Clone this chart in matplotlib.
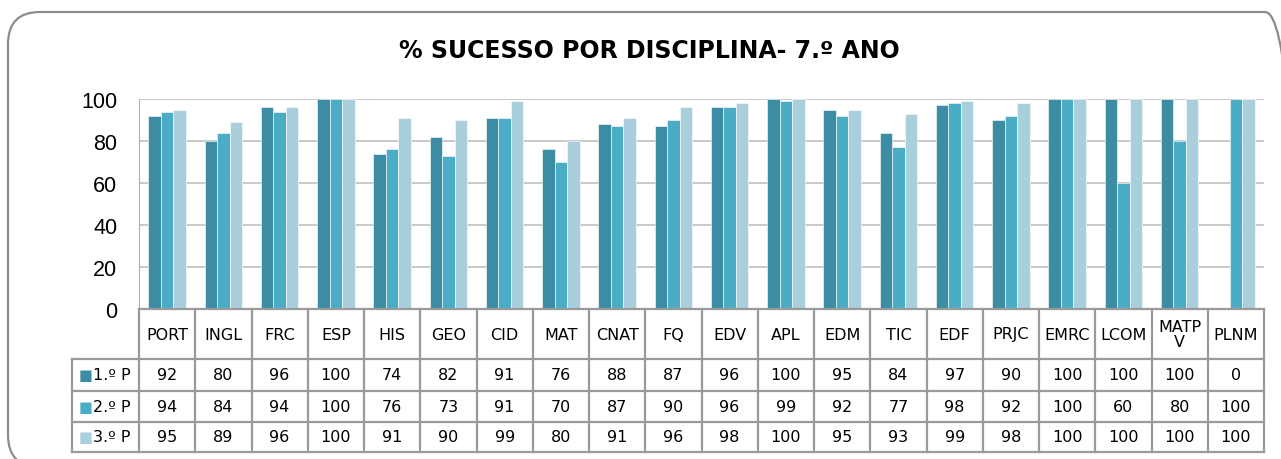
import matplotlib.pyplot as plt
import numpy as np
from matplotlib.patches import FancyBboxPatch
from matplotlib.transforms import IdentityTransform, blended_transform_factory

disciplinas = ['PORT', 'INGL', 'FRC', 'ESP', 'HIS', 'GEO', 'CID', 'MAT', 'CNAT', 'FQ',
               'EDV', 'APL', 'EDM', 'TIC', 'EDF', 'PRJC', 'EMRC', 'LCOM', 'MATP\nV', 'PLNM']
p1 = [92, 80, 96, 100, 74, 82, 91, 76, 88, 87, 96, 100, 95, 84, 97, 90, 100, 100, 100, 0]
p2 = [94, 84, 94, 100, 76, 73, 91, 70, 87, 90, 96, 99, 92, 77, 98, 92, 100, 60, 80, 100]
p3 = [95, 89, 96, 100, 91, 90, 99, 80, 91, 96, 98, 100, 95, 93, 99, 98, 100, 100, 100, 100]
periodos = ['1.º P', '2.º P', '3.º P']
cores = ['#3C8DA3', '#4BACC6', '#A9CFDD']

W, H = 1281, 460
fig = plt.figure(figsize=(W / 100, H / 100), dpi=100)

# moldura arredondada
moldura = FancyBboxPatch((8, -8), 1289, 455, boxstyle='round,pad=0,rounding_size=32',
                         transform=IdentityTransform(), fill=False, ec='#8C8C8C', lw=1.6)
fig.add_artist(moldura)

ax = fig.add_axes([139 / W, 150 / H, 1125 / W, 210 / H])
x = np.arange(len(disciplinas))
larg = 0.222
for k, serie in enumerate([p1, p2, p3]):
    ax.bar(x + (k - 1) * larg, serie, larg, color=cores[k], ec='white', lw=0.4, zorder=3)

ax.set_xlim(-0.5, len(disciplinas) - 0.5)
ax.set_ylim(0, 100)
ax.set_yticks(range(0, 101, 20))
ax.set_xticks([])
ax.tick_params(axis='y', length=0, pad=15.5)
for lab in ax.get_yticklabels():
    lab.set_fontfamily('Liberation Sans')
    lab.set_fontsize(15.5)
ax.grid(axis='y', color='#C0C0C0', lw=1.2, zorder=0)
for s in ['top', 'right', 'bottom']:
    ax.spines[s].set_visible(False)
ax.spines['left'].set_color('#B0B0B0')

fig.text(649 / W, 1 - 51 / H, '% SUCESSO POR DISCIPLINA- 7.º ANO', ha='center', va='center',
         fontsize=17, fontweight='bold', family='DejaVu Sans')

# tabela de dados
tr = blended_transform_factory(ax.transData, ax.transAxes)
linhas_y = [(310 - y) / 210 for y in [310, 360, 392, 423, 453]]
x_esq = -0.5 - 67 / 56.25
x_dir = len(disciplinas) - 0.5
cor_linha = '#9A9A9A'
kw = dict(transform=tr, color=cor_linha, lw=1.6, clip_on=False, zorder=5)
ax.plot([-0.5, x_dir], [linhas_y[0]] * 2, **kw)
for yy in linhas_y[1:]:
    ax.plot([x_esq, x_dir], [yy] * 2, **kw)
for i in range(len(disciplinas) + 1):
    ax.plot([i - 0.5] * 2, [linhas_y[0], linhas_y[-1]], **kw)
ax.plot([x_esq] * 2, [linhas_y[1], linhas_y[-1]], **kw)

fs = 11.5
for i, d in enumerate(disciplinas):
    ax.text(i, (linhas_y[0] + linhas_y[1]) / 2, d, transform=tr, ha='center', va='center',
            fontsize=fs, linespacing=1.0, clip_on=False)
for r, serie in enumerate([p1, p2, p3]):
    ym = (linhas_y[r + 1] + linhas_y[r + 2]) / 2
    for i, v in enumerate(serie):
        ax.text(i, ym, str(v), transform=tr, ha='center', va='center', fontsize=fs, clip_on=False)
    ax.text(x_esq + 0.11, ym, '■', transform=tr, ha='left', va='center', fontsize=10.5,
            color=cores[r], clip_on=False)
    ax.text(x_esq + 0.38, ym, periodos[r], transform=tr, ha='left', va='center', fontsize=fs,
            clip_on=False)

fig.savefig('out.png', dpi=100)
